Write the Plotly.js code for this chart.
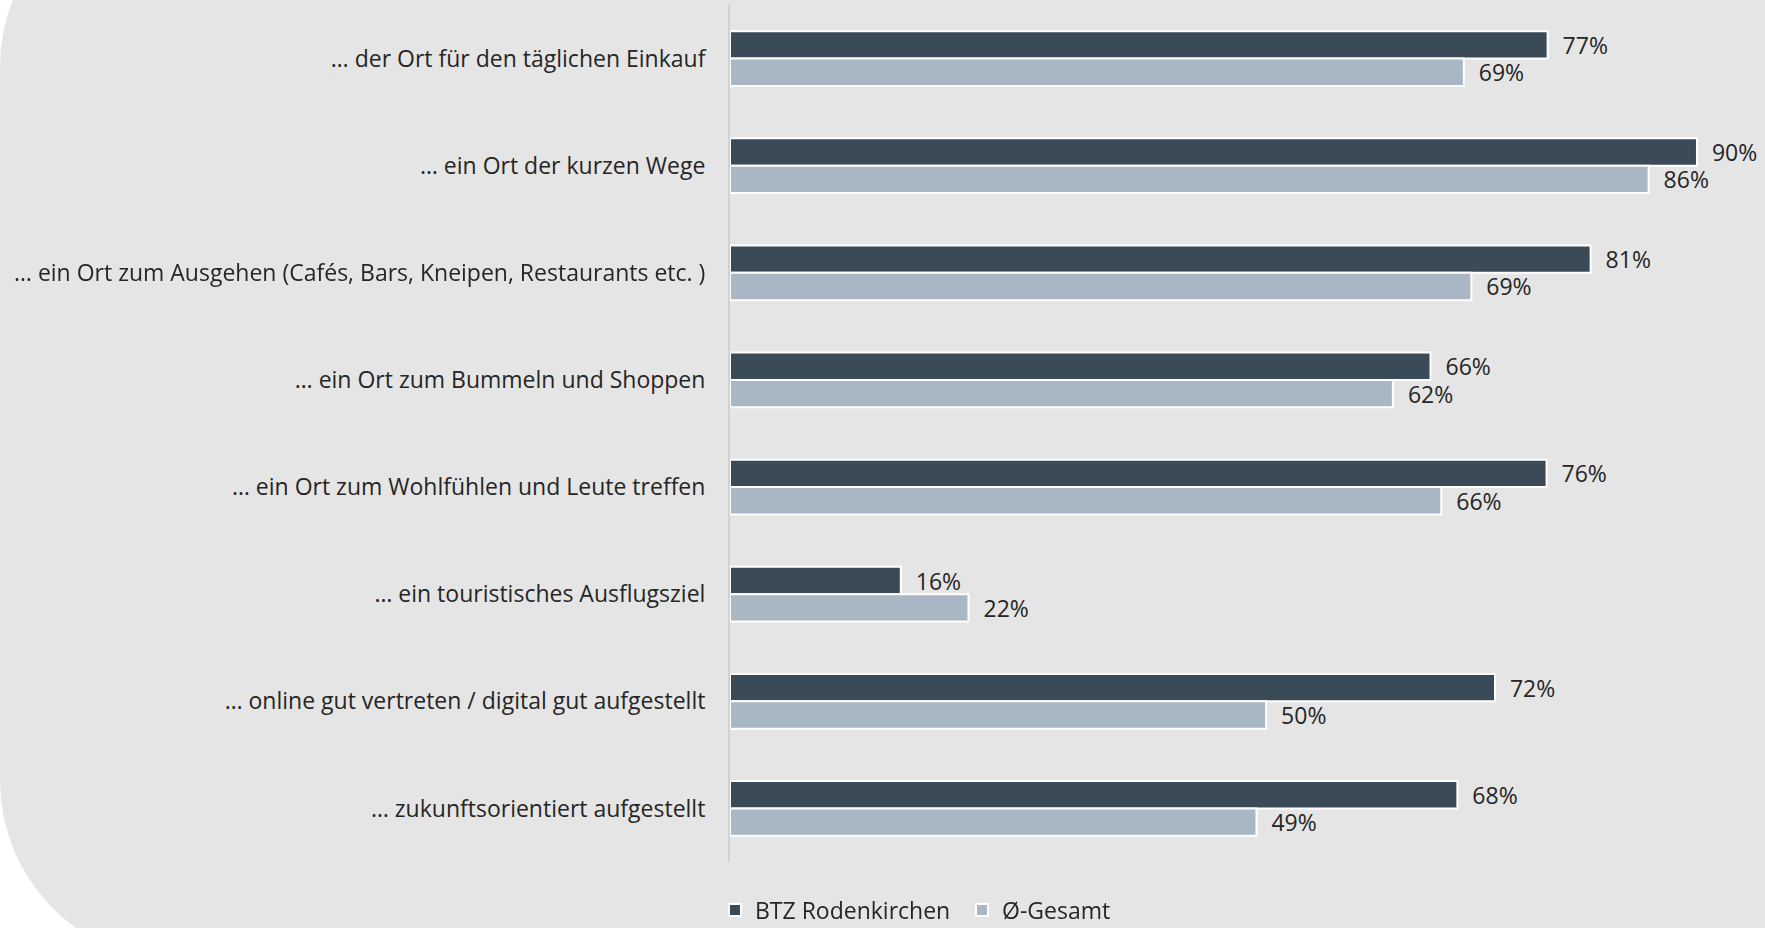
<!DOCTYPE html>
<html>
<head>
<meta charset="utf-8">
<script src="https://cdn.plot.ly/plotly-3.0.1.min.js"></script>
<style>
  html, body { margin: 0; padding: 0; width: 1765px; height: 928px; overflow: hidden; background: #ffffff; }
  #bg { position: absolute; left: 0; top: -115px; width: 2300px; height: 1077px; border-radius: 182px; background: #e5e5e5; }
  #chart { position: absolute; left: 0; top: 0; width: 1765px; height: 928px; }
</style>
</head>
<body>
<div id="bg"></div>
<div id="chart"></div>
<script>
// Categories (top to bottom)
const categories = [
  "… der Ort für den täglichen Einkauf",
  "… ein Ort der kurzen Wege",
  "… ein Ort zum Ausgehen (Cafés, Bars, Kneipen, Restaurants etc. )",
  "… ein Ort zum Bummeln und Shoppen",
  "… ein Ort zum Wohlfühlen und Leute treffen",
  "… ein touristisches Ausflugsziel",
  "… online gut vertreten / digital gut aufgestellt",
  "… zukunftsorientiert aufgestellt"
];

// Series names
const seriesNames = ["BTZ Rodenkirchen", "Ø-Gesamt"];

// Bar lengths (percent)
const btzValues     = [76.1, 90.0, 80.1, 65.2, 76.0, 15.9, 71.2, 67.7];
const gesamtValues  = [68.3, 85.5, 69.0, 61.7, 66.2, 22.2, 49.9, 49.0];

// Data labels as printed in the picture
const btzLabels    = ["77%", "90%", "81%", "66%", "76%", "16%", "72%", "68%"];
const gesamtLabels = ["69%", "86%", "69%", "62%", "66%", "22%", "50%", "49%"];

const pad = "\u00a0\u00a0";
const FONT = "'Open Sans', Lato, sans-serif";
const TXT = "#262626";
const FS = 23;

const traces = [
  {
    type: "bar", orientation: "h", name: seriesNames[0],
    y: categories, x: btzValues,
    text: btzLabels.map(t => pad + t), textposition: "outside", cliponaxis: false,
    constraintext: "none",
    textfont: { family: FONT, size: FS, color: TXT },
    marker: { color: "#3b4a57", line: { color: "#ffffff", width: 2 } },
    hoverinfo: "skip"
  },
  {
    type: "bar", orientation: "h", name: seriesNames[1],
    y: categories, x: gesamtValues,
    text: gesamtLabels.map(t => pad + t), textposition: "outside", cliponaxis: false,
    constraintext: "none",
    textfont: { family: FONT, size: FS, color: TXT },
    marker: { color: "#a9b7c4", line: { color: "#ffffff", width: 2 } },
    hoverinfo: "skip"
  }
];

const layout = {
  width: 1765, height: 928,
  paper_bgcolor: "rgba(0,0,0,0)",
  plot_bgcolor: "rgba(0,0,0,0)",
  margin: { l: 730, r: 0, t: 5, b: 66 },
  barmode: "group", bargap: 0.49, bargroupgap: 0,
  font: { family: FONT, size: FS, color: TXT },
  xaxis: {
    range: [0, 96.33], visible: false, fixedrange: true
  },
  yaxis: {
    autorange: "reversed",
    showline: true, linecolor: "#d2d2d2", linewidth: 2,
    showgrid: false, zeroline: false,
    ticks: "outside", ticklen: 18, tickcolor: "rgba(0,0,0,0)",
    tickfont: { family: FONT, size: FS, color: TXT },
    fixedrange: true
  },
  showlegend: true,
  legend: {
    orientation: "h",
    xref: "container", yref: "container",
    x: 715 / 1765, xanchor: "left",
    y: 18 / 928, yanchor: "middle",
    bgcolor: "rgba(0,0,0,0)",
    borderwidth: 0,
    font: { family: FONT, size: FS, color: TXT },
    entrywidth: 202, entrywidthmode: "pixels",
    traceorder: "normal"
  }
};

Plotly.newPlot("chart", traces, layout, { displayModeBar: false, staticPlot: true });
</script>
</body>
</html>
